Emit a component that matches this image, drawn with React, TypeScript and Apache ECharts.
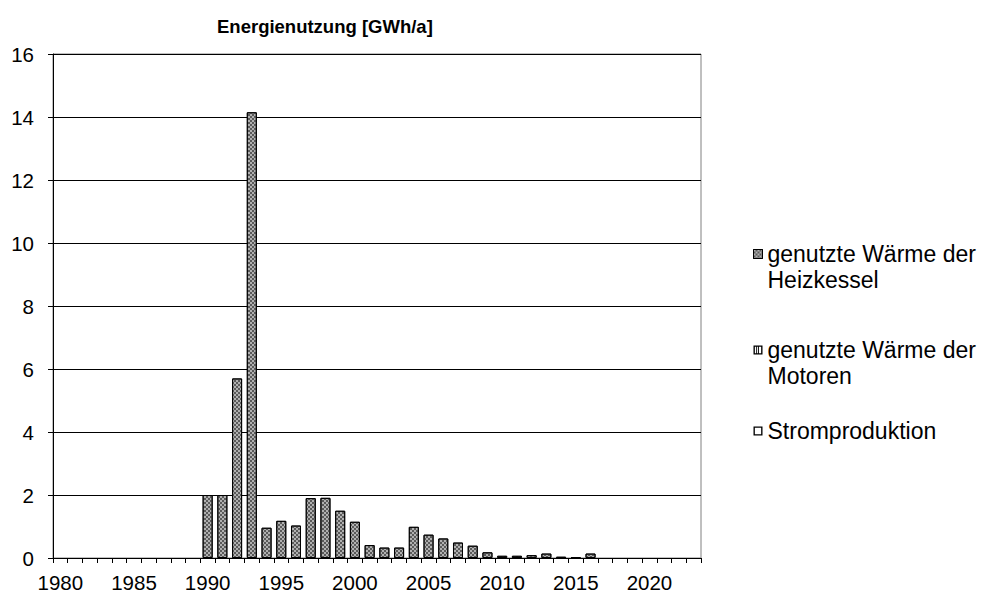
import React, { useEffect, useRef } from "react";
import * as echarts from "echarts";

const years: string[] = [
  "1980", "1981", "1982", "1983", "1984", "1985", "1986", "1987", "1988", "1989",
  "1990", "1991", "1992", "1993", "1994", "1995", "1996", "1997", "1998", "1999",
  "2000", "2001", "2002", "2003", "2004", "2005", "2006", "2007", "2008", "2009",
  "2010", "2011", "2012", "2013", "2014", "2015", "2016", "2017", "2018", "2019",
  "2020", "2021", "2022", "2023",
];

const waermeHeizkessel: (number | null)[] = [
  null, null, null, null, null, null, null, null, null, null,
  2.0, 2.0, 5.7, 14.15, 0.96, 1.18, 1.03, 1.9, 1.91, 1.5,
  1.15, 0.41, 0.33, 0.33, 0.99, 0.74, 0.62, 0.49, 0.39, 0.18,
  0.07, 0.07, 0.09, 0.14, 0.04, 0.03, 0.14, null, null, null,
  null, null, null, null,
];

const waermeMotoren: (number | null)[] = [
  null, null, null, null, null, null, null, null, null, null,
  0, 0, 0, 0, 0, 0, 0, 0, 0, 0,
  0, 0, 0, 0, 0, 0, 0, 0, 0, 0,
  0, 0, 0, 0, 0, 0, 0, null, null, null,
  null, null, null, null,
];

const stromproduktion: (number | null)[] = [
  null, null, null, null, null, null, null, null, null, null,
  0, 0, 0, 0, 0, 0, 0, 0, 0, 0,
  0, 0, 0, 0, 0, 0, 0, 0, 0, 0,
  0, 0, 0, 0, 0, 0, 0, null, null, null,
  null, null, null, null,
];

const seriesNames: string[] = [
  "genutzte Wärme der Heizkessel",
  "genutzte Wärme der Motoren",
  "Stromproduktion",
];

const FONT = "'Liberation Sans', Arial, sans-serif";

const checkerDecal = {
  symbol: "rect",
  symbolSize: 1,
  color: "#5a5a5a",
  dashArrayX: [[2, 2], [0, 2, 2, 0]],
  dashArrayY: [2, 0],
  rotation: 0,
};

export default function App() {
  const ref = useRef<HTMLDivElement>(null);

  useEffect(() => {
    if (!ref.current) return;
    const chart = echarts.init(ref.current, undefined, { renderer: "svg" });
    const option: any = {
      animation: false,
      backgroundColor: "#ffffff",
      title: {
        text: "Energienutzung [GWh/a]",
        left: 212,
        top: 12,
        textStyle: {
          fontFamily: FONT,
          fontWeight: "bold",
          fontSize: 18.5,
          color: "#000",
        },
      },
      grid: {
        left: 53,
        right: 286,
        top: 54,
        bottom: 35,
        show: true,
        borderColor: "#808080",
        borderWidth: 1,
        backgroundColor: "transparent",
      },
      legend: {
        orient: "vertical",
        left: 748,
        top: 210,
        itemWidth: 9,
        itemHeight: 9,
        itemGap: 18,
        selectedMode: false,
        formatter: (name: string) =>
          name.indexOf("der ") >= 0 ? "\n" + name.replace("der ", "der\n") : name,
        textStyle: {
          fontFamily: FONT,
          fontSize: 23,
          lineHeight: 26,
          color: "#000",
        },
        data: [
          {
            name: seriesNames[0],
            icon: "rect",
            itemStyle: { color: "#b0b0b0", borderColor: "#000", borderWidth: 1, decal: checkerDecal },
          },
          {
            name: seriesNames[1],
            icon: "path://M0,0H10V10H0Z M1.5,1.5V8.5H3V1.5Z M4,1.5V8.5H5V1.5Z M6,1.5V8.5H8.5V1.5Z",
            itemStyle: { color: "#000", borderWidth: 0 },
          },
          {
            name: seriesNames[2],
            icon: "path://M0,0H10V10H0Z M1.5,1.5V8.5H8.5V1.5Z",
            itemStyle: { color: "#000", borderWidth: 0 },
            textStyle: { padding: [11, 0, 11, 0] },
          },
        ],
      },
      xAxis: {
        type: "category",
        data: years,
        boundaryGap: true,
        axisLine: { show: true, lineStyle: { color: "#000", width: 1 } },
        axisTick: { show: true, interval: 0, length: 5, lineStyle: { color: "#000" } },
        axisLabel: {
          interval: 4,
          margin: 14,
          fontFamily: FONT,
          fontSize: 20.5,
          color: "#000",
        },
        splitLine: { show: false },
      },
      yAxis: {
        type: "value",
        min: 0,
        max: 16,
        interval: 2,
        axisLine: { show: true, lineStyle: { color: "#000", width: 1 } },
        axisTick: { show: true, length: 5, lineStyle: { color: "#000" } },
        axisLabel: {
          margin: 19,
          fontFamily: FONT,
          fontSize: 20.5,
          color: "#000",
        },
        splitLine: { show: true, lineStyle: { color: "#000", width: 1 } },
      },
      series: [
        {
          name: seriesNames[0],
          type: "bar",
          stack: "total",
          data: waermeHeizkessel,
          barCategoryGap: "32%",
          itemStyle: {
            color: "#b0b0b0",
            borderColor: "#000",
            borderWidth: 1,
            decal: checkerDecal,
          },
        },
        {
          name: seriesNames[1],
          type: "bar",
          stack: "total",
          data: waermeMotoren,
          itemStyle: { color: "#ffffff", borderColor: "#000", borderWidth: 0 },
        },
        {
          name: seriesNames[2],
          type: "bar",
          stack: "total",
          data: stromproduktion,
          itemStyle: { color: "#ffffff", borderColor: "#000", borderWidth: 0 },
        },
      ],
    };
    chart.setOption(option);
    return () => {
      chart.dispose();
    };
  }, []);

  return (
    <div
      ref={ref}
      style={{ position: "fixed", left: 0, top: 0, width: 987, height: 593 }}
    />
  );
}
